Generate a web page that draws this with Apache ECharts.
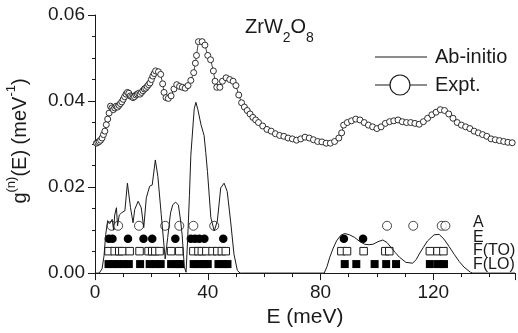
<!DOCTYPE html>
<html>
<head>
<meta charset="utf-8">
<script src="https://cdn.jsdelivr.net/npm/echarts@6/dist/echarts.min.js"></script>
<style>
  html, body { margin: 0; padding: 0; background: #fff; }
  #chart { width: 518px; height: 333px; }
</style>
</head>
<body>
<div id="chart"></div>
<script>
// experimental g(E), [E meV, g]
const exptPoints = [
  [0.5, 0.0302], [1.0, 0.0304], [1.5, 0.0306], [2.0, 0.0309], [2.5, 0.0314], [3.0, 0.0322],
  [3.5, 0.0330], [4.0, 0.0345], [4.5, 0.0358], [5.0, 0.0372], [5.5, 0.0388], [6.0, 0.0384],
  [6.5, 0.0380], [7.0, 0.0384], [7.5, 0.0388], [8.0, 0.0386], [8.5, 0.0390], [9.0, 0.0394],
  [9.5, 0.0398], [10.0, 0.0404], [10.5, 0.0410], [11.0, 0.0416], [11.5, 0.0420], [12.0, 0.0418],
  [12.5, 0.0412], [13.0, 0.0410], [13.5, 0.0408], [14.0, 0.0410], [14.5, 0.0414], [15.0, 0.0416],
  [15.5, 0.0418], [16.0, 0.0416], [16.5, 0.0420], [17.0, 0.0424], [17.5, 0.0428], [18.0, 0.0430],
  [18.5, 0.0434], [19.0, 0.0438], [19.5, 0.0442], [20.0, 0.0450], [20.5, 0.0458], [21.0, 0.0464],
  [21.5, 0.0470], [22.5, 0.0468], [23.3, 0.0462], [24.0, 0.0440], [24.5, 0.0420], [25.2, 0.0408],
  [26.0, 0.0406], [27.0, 0.0412], [28.0, 0.0428], [29.0, 0.0438], [30.0, 0.0434], [31.0, 0.0432],
  [32.0, 0.0430], [33.0, 0.0436], [34.0, 0.0448], [35.0, 0.0466], [35.6, 0.0488], [36.0, 0.0506],
  [36.7, 0.0538], [38.0, 0.0538], [39.0, 0.0530], [40.0, 0.0506], [41.0, 0.0496], [42.0, 0.0470],
  [42.6, 0.0446], [43.2, 0.0432], [44.3, 0.0432], [45.2, 0.0446], [46.5, 0.0454], [47.8, 0.0450],
  [49.0, 0.0446], [50.0, 0.0436], [51.0, 0.0414], [52.0, 0.0396], [53.0, 0.0386], [54.0, 0.0378],
  [55.0, 0.0370], [56.0, 0.0362], [57.0, 0.0356], [58.0, 0.0350], [59.5, 0.0342], [61.0, 0.0334],
  [62.5, 0.0330], [64.0, 0.0324], [65.5, 0.0320], [67.0, 0.0318], [68.5, 0.0314], [70.0, 0.0312],
  [71.5, 0.0309], [73.0, 0.0312], [74.5, 0.0316], [76.0, 0.0314], [77.5, 0.0310], [79.0, 0.0306],
  [80.5, 0.0305], [82.0, 0.0302], [83.5, 0.0302], [85.0, 0.0306], [86.5, 0.0314], [87.5, 0.0326],
  [88.2, 0.0344], [89.5, 0.0350], [91.0, 0.0354], [92.5, 0.0358], [94.0, 0.0356], [95.5, 0.0350],
  [97.0, 0.0344], [98.5, 0.0340], [100.0, 0.0336], [101.5, 0.0340], [103.0, 0.0348], [104.5, 0.0352],
  [106.0, 0.0354], [107.5, 0.0356], [109.0, 0.0352], [110.5, 0.0350], [112.0, 0.0350], [113.5, 0.0348],
  [115.0, 0.0346], [116.5, 0.0352], [118.0, 0.0360], [119.5, 0.0368], [121.0, 0.0374], [122.5, 0.0380],
  [124.0, 0.0378], [125.5, 0.0370], [127.0, 0.0360], [128.5, 0.0350], [130.0, 0.0344], [131.5, 0.0340],
  [133.0, 0.0336], [134.5, 0.0330], [136.0, 0.0326], [137.5, 0.0322], [139.0, 0.0318], [140.5, 0.0312],
  [142.0, 0.0310], [143.5, 0.0308], [145.0, 0.0306], [146.5, 0.0304], [148.0, 0.0303]
];

// ab-initio curve
const abPoints = [
  [0, 0], [1.5, 0], [2.5, 0.001], [3.2, 0.004], [3.8, 0.009], [4.5, 0.0122], [5.2, 0.0115],
  [6.1, 0.0125], [6.6, 0.0100], [7.0, 0.0135], [7.6, 0.0152], [8.0, 0.0110], [8.6, 0.0135],
  [9.4, 0.0140], [10.0, 0.0142], [10.6, 0.0145], [11.5, 0.0209], [12.6, 0.0152], [13.5, 0.0117],
  [14.1, 0.0148], [15.3, 0.0167], [16.4, 0.0152], [17.3, 0.0106], [18.2, 0.0175], [19.4, 0.0202],
  [20.3, 0.0205], [21.4, 0.0263], [22.3, 0.0225], [23.5, 0.0136], [24.9, 0.0033], [25.8, 0.0083],
  [26.8, 0.0140], [27.6, 0.0159], [28.6, 0.0165], [29.6, 0.0158], [30.4, 0.0120], [30.9, 0.0090],
  [31.7, 0.0014], [32.3, 0.0002], [32.9, 0.0083], [33.5, 0.0180], [34.0, 0.0274], [35.2, 0.0382],
  [35.8, 0.0397], [36.5, 0.0380], [37.6, 0.0345], [38.7, 0.0320], [39.3, 0.0280], [39.9, 0.0236],
  [41.1, 0.0129], [42.3, 0.0098], [43.4, 0.0121], [44.6, 0.0198], [45.8, 0.0209], [46.9, 0.0190],
  [48.1, 0.0121], [49.3, 0.0044], [50.5, 0.0006], [51.5, 0], [81.3, 0], [82.3, 0.0015],
  [83.3, 0.0037], [84.5, 0.0058], [85.7, 0.0075], [87.2, 0.0088], [88.6, 0.0092], [90.3, 0.0089],
  [92.1, 0.0083], [94.0, 0.0073], [95.7, 0.0067], [97.2, 0.0066], [98.6, 0.0067], [100.4, 0.0073],
  [102.1, 0.0077], [103.6, 0.0071], [105.0, 0.0060], [106.5, 0.0048], [108.0, 0.0037], [110.3, 0.0025],
  [112.7, 0.0023], [114.0, 0.0032], [115.0, 0.0044], [116.5, 0.0060], [118.0, 0.0075], [120.3, 0.0089],
  [122.1, 0.0090], [123.8, 0.0079], [125.6, 0.0062], [127.4, 0.0044], [129.2, 0.0027], [130.9, 0.0014],
  [133.2, 0.0002], [134.0, 0], [149, 0]
];

// mode energies per symmetry row, and the row heights
const modesA = [5.9, 8.2, 15.6, 24.9, 29.9, 34.9, 42.3, 103.6, 112.9, 123.0, 124.3];
const modesE = [4.9, 6.2, 11.7, 17.2, 20.3, 28.5, 34.0, 35.5, 37.0, 38.8, 45.5, 88.3, 95.1];
const modesFTO = [4.8, 7.0, 8.6, 9.7, 12.3, 15.8, 19.0, 20.3, 21.4, 22.9, 27.0, 29.9, 34.9, 36.7,
  37.9, 39.5, 41.7, 43.4, 45.0, 46.4, 87.4, 89.4, 95.3, 103.0, 104.4, 118.8, 121.5, 123.6];
const modesFLO = [4.8, 6.5, 8.2, 10.0, 12.0, 16.0, 19.4, 21.4, 23.3, 27.0, 29.0, 30.2, 35.0, 37.0,
  38.6, 40.0, 43.8, 45.5, 47.0, 88.6, 92.7, 99.2, 103.3, 106.8, 118.8, 121.7, 123.8];
const rowLevels = { A: 0.011, E: 0.008, FTO: 0.0051, FLO: 0.0021 };

const xTicks = [0, 40, 80, 120];
const yTicks = [0, 0.02, 0.04, 0.06];

const font = 'Liberation Sans, Arial, Helvetica, sans-serif';
const ink = '#1a1a1a';

function row(xs, level) {
  return xs.map(x => [x, level]);
}

const chart = echarts.init(document.getElementById('chart'));

const hidden = { axisLine: { show: false }, axisTick: { show: false }, axisLabel: { show: false }, splitLine: { show: false } };

chart.setOption({
  animation: false,
  backgroundColor: '#fff',
  grid: { left: 95, right: 0, top: 15, bottom: 57 },
  xAxis: [{
    type: 'value', min: 0, max: 149, interval: 40, position: 'bottom',
    axisLine: { show: true, onZero: false, lineStyle: { color: ink, width: 1 } },
    axisTick: { length: 7, lineStyle: { color: ink } },
    axisLabel: {
      margin: 10, fontSize: 19, color: ink, fontFamily: font,
      formatter: v => xTicks.includes(v) ? String(v) : ''
    },
    splitLine: { show: false },
    name: 'E (meV)', nameLocation: 'middle', nameGap: 27,
    nameTextStyle: { fontSize: 21, color: ink, fontFamily: font }
  }, {
    ...hidden, type: 'value', min: 0, max: 149, interval: 10, position: 'bottom',
    axisTick: { show: true, length: 4, lineStyle: { color: ink } }
  }, {
    ...hidden, type: 'value', min: 0, max: 149, position: 'top',
    axisLine: { show: true, lineStyle: { color: ink, width: 1 } }
  }],
  yAxis: [{
    type: 'value', min: 0, max: 0.06, interval: 0.02, position: 'left',
    axisLine: { show: true, lineStyle: { color: ink, width: 1 } },
    axisTick: { length: 7, lineStyle: { color: ink } },
    axisLabel: {
      margin: 10, fontSize: 19, color: ink, fontFamily: font,
      formatter: v => yTicks.some(t => Math.abs(t - v) < 1e-9) ? v.toFixed(2) : ''
    },
    splitLine: { show: false }
  }, {
    ...hidden, type: 'value', min: 0, max: 0.06, interval: 0.005, position: 'left',
    axisTick: { show: true, length: 3, lineStyle: { color: ink } }
  }],
  graphic: [
    {
      type: 'text', x: 20, y: 141, rotation: Math.PI / 2,
      style: {
        text: '{m|g}{s|(n)}{m|(E) (meV}{s|-1}{m|)}',
        align: 'center', verticalAlign: 'middle', fill: ink, font: '20px ' + font,
        rich: {
          m: { fontSize: 20, fontFamily: font, fill: ink },
          s: { fontSize: 13, fontFamily: font, fill: ink, padding: [0, 0, 18, 0] }
        }
      }
    },
    {
      type: 'text', x: 245, y: 27,
      style: {
        text: '{m|ZrW}{s|2}{m|O}{s|8}',
        align: 'left', verticalAlign: 'middle', fill: ink,
        rich: {
          m: { fontSize: 20, fontFamily: font, fill: ink },
          s: { fontSize: 14, fontFamily: font, fill: ink, padding: [23, 0, 0, 0] }
        }
      }
    },
    // legend
    { type: 'line', shape: { x1: 375, y1: 57, x2: 427, y2: 57 }, style: { stroke: ink, lineWidth: 1 } },
    { type: 'text', x: 435, y: 57, style: { text: 'Ab-initio', fontSize: 20, fontFamily: font, fill: ink, verticalAlign: 'middle' } },
    { type: 'line', shape: { x1: 375, y1: 85, x2: 427, y2: 85 }, style: { stroke: ink, lineWidth: 1 } },
    { type: 'circle', shape: { cx: 400, cy: 85, r: 10 }, style: { fill: '#fff', stroke: ink, lineWidth: 1.2 } },
    { type: 'text', x: 435, y: 85, style: { text: 'Expt.', fontSize: 20, fontFamily: font, fill: ink, verticalAlign: 'middle' } },
    // row labels
    { type: 'text', x: 473, y: 223, style: { text: 'A', fontSize: 16, fontFamily: font, fill: ink, verticalAlign: 'middle' } },
    { type: 'text', x: 473, y: 238, style: { text: 'E', fontSize: 16, fontFamily: font, fill: ink, verticalAlign: 'middle' } },
    { type: 'text', x: 473, y: 251, style: { text: 'F(TO)', fontSize: 16, fontFamily: font, fill: ink, verticalAlign: 'middle' } },
    { type: 'text', x: 473, y: 265, style: { text: 'F(LO)', fontSize: 16, fontFamily: font, fill: ink, verticalAlign: 'middle' } }
  ],
  series: [{
    name: 'Expt.', type: 'line', data: exptPoints,
    symbol: 'circle', symbolSize: 6, showAllSymbol: true,
    lineStyle: { color: ink, width: 0.8 },
    itemStyle: { color: '#fff', borderColor: ink, borderWidth: 0.9 }
  }, {
    name: 'Ab-initio', type: 'line', data: abPoints, showSymbol: false,
    lineStyle: { color: ink, width: 1 }
  }, {
    name: 'A', type: 'scatter', data: row(modesA, rowLevels.A),
    symbol: 'circle', symbolSize: 9,
    itemStyle: { color: '#fff', borderColor: ink, borderWidth: 1 }
  }, {
    name: 'E', type: 'scatter', data: row(modesE, rowLevels.E),
    symbol: 'circle', symbolSize: 8.5,
    itemStyle: { color: '#000', opacity: 1 }
  }, {
    name: 'F(TO)', type: 'scatter', data: row(modesFTO, rowLevels.FTO),
    symbol: 'rect', symbolSize: 7.5,
    itemStyle: { color: '#fff', borderColor: ink, borderWidth: 1, opacity: 1 }
  }, {
    name: 'F(LO)', type: 'scatter', data: row(modesFLO, rowLevels.FLO),
    symbol: 'rect', symbolSize: 8,
    itemStyle: { color: '#000', opacity: 1 }
  }]
});
</script>
</body>
</html>
